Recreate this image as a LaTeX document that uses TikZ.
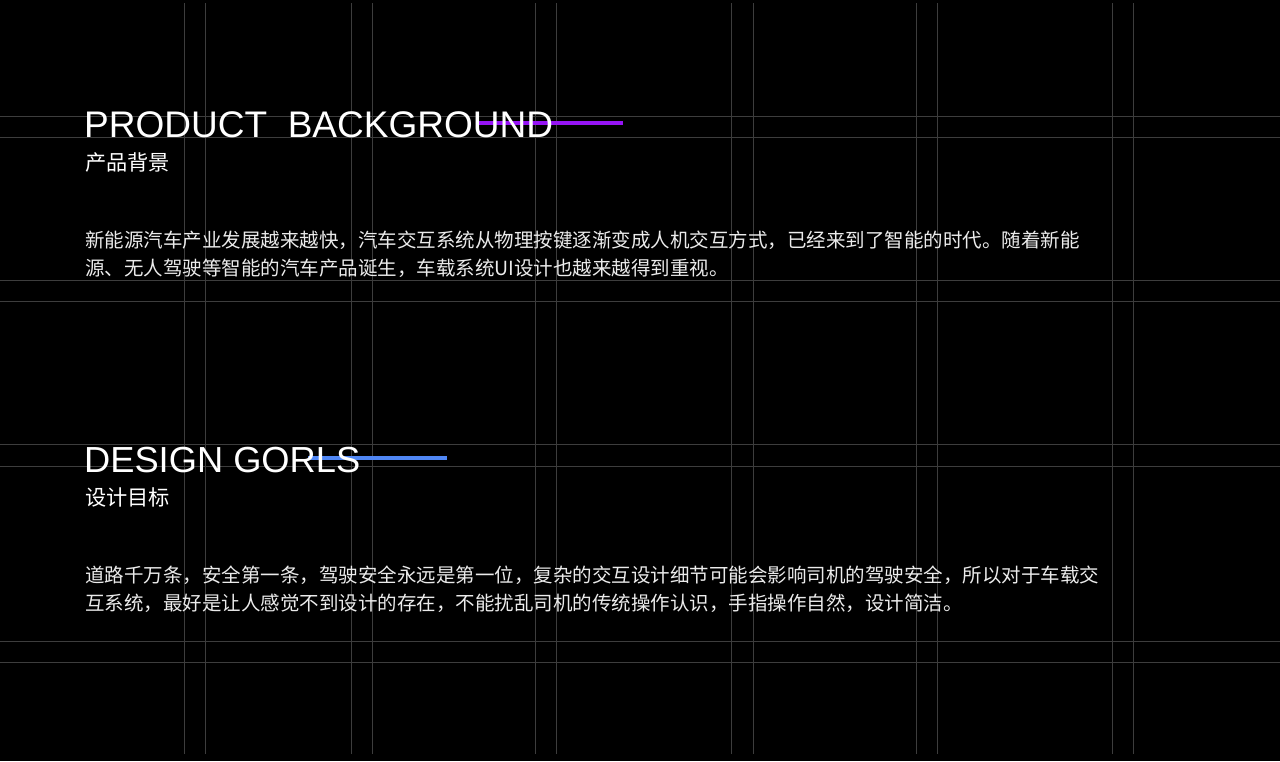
\documentclass[tikz,border=0pt]{standalone}
\usepackage{fontspec}
\setmainfont{Liberation Sans}
\newfontfamily\cjk{Noto Sans CJK SC}
\begin{document}
\begin{tikzpicture}[x=1pt,y=-1pt,
  grid/.style={draw=white!24!black,line width=1pt},
  title/.style={anchor=base west,inner sep=0pt,text=white,font=\fontsize{37}{37}\selectfont},
  sub/.style={anchor=base west,inner sep=0pt,text=white,font=\cjk\fontsize{21.2}{22}\selectfont},
  body/.style={anchor=base west,inner sep=0pt,text=white!92!black,font=\cjk\fontsize{19.5}{20}\selectfont}]
\fill[black] (0,0) rectangle (1280,761);
\useasboundingbox (0,0) rectangle (1280,761);
\foreach \y in {116,137,280,301,444,466,641,662} \draw[grid] (0,\y) -- (1280,\y);
\foreach \x in {184,205,351,372,535,556,731,753,916,937,1112,1133} \draw[grid] (\x,3) -- (\x,754);
\coordinate (p1) at (478,123); \coordinate (p2) at (623,123);
\draw[line width=4pt,color={rgb,255:red,150;green,20;blue,245}] (p1) -- (p2);
\coordinate (b1) at (308,458); \coordinate (b2) at (447,458);
\draw[line width=4pt,color={rgb,255:red,80;green,135;blue,245}] (b1) -- (b2);
\node[title] (t1) at (84,137) {\resizebox{469pt}{!}{PRODUCT\ \ BACKGROUND}};
\node[sub] (s1) at (85,170) {产品背景};
\node[body] (a1) at (85,247) {新能源汽车产业发展越来越快，汽车交互系统从物理按键逐渐变成人机交互方式，已经来到了智能的时代。随着新能};
\node[body] (a2) at (85,275) {源、无人驾驶等智能的汽车产品诞生，车载系统UI设计也越来越得到重视。};
\node[title] (t2) at (84,472) {\resizebox{276pt}{!}{DESIGN GORLS}};
\node[sub] (s2) at (85,505) {设计目标};
\node[body] (c1) at (85,582) {道路千万条，安全第一条，驾驶安全永远是第一位，复杂的交互设计细节可能会影响司机的驾驶安全，所以对于车载交};
\node[body] (c2) at (85,610) {互系统，最好是让人感觉不到设计的存在，不能扰乱司机的传统操作认识，手指操作自然，设计简洁。};
\end{tikzpicture}
\end{document}
